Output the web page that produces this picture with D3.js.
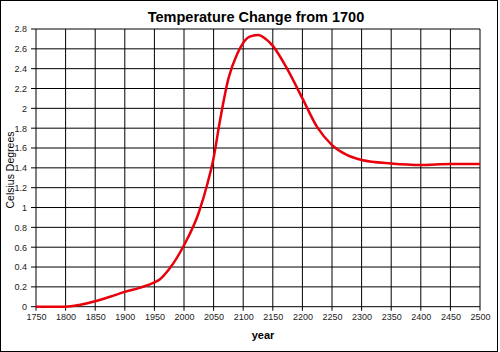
<!DOCTYPE html>
<html><head><meta charset="utf-8">
<script src="https://cdn.jsdelivr.net/npm/d3@7"></script>
<style>body{margin:0;background:#fff}svg{display:block;font-family:"Liberation Sans",Arial,sans-serif}</style>
</head><body><svg id="c" width="500" height="352"></svg>
<script>
const years = [1750,1775,1800,1825,1850,1875,1900,1925,1950,1960,1975,2000,2025,2040,2050,2060,2075,2090,2100,2110,2125,2140,2150,2175,2200,2225,2250,2275,2300,2350,2400,2450,2500];
const temps = [0,0,0,0.02,0.055,0.1,0.15,0.19,0.245,0.28,0.38,0.62,0.95,1.25,1.5,1.85,2.3,2.55,2.66,2.72,2.74,2.69,2.63,2.39,2.1,1.81,1.63,1.53,1.48,1.445,1.43,1.44,1.44];
const xTicks = d3.range(1750, 2501, 50);
const yTicks = d3.range(0, 2.81, 0.2).map(v => +v.toFixed(1));
const title = "Temperature Change from 1700";
const xLabel = "year";
const yLabel = "Celsius Degrees";

const svg = d3.select("#c");
const L = 36, R = 480, T = 29, B = 306.7;
const x = d3.scaleLinear().domain([1750, 2500]).range([L, R]);
const y = d3.scaleLinear().domain([0, 2.8]).range([B, T]);

svg.append("rect").attr("x",0.5).attr("y",0.5).attr("width",497).attr("height",351)
  .attr("fill","#fff").attr("stroke","#000");

// grid
svg.append("g").selectAll("line").data(yTicks).join("line")
  .attr("x1", L-5).attr("x2", R).attr("y1", d=>y(d)).attr("y2", d=>y(d))
  .attr("stroke","#000").attr("stroke-width",1);
svg.append("g").selectAll("line").data(xTicks).join("line")
  .attr("x1", d=>x(d)).attr("x2", d=>x(d)).attr("y1", T).attr("y2", B+4)
  .attr("stroke","#000").attr("stroke-width",1);

// axes labels
const yAxis = d3.axisLeft(y).tickValues(yTicks).tickSize(0).tickPadding(9)
  .tickFormat(d => d===0 ? "0" : d3.format("")(d));
svg.append("g").attr("transform",`translate(${L},0)`).call(yAxis)
  .call(g=>g.select(".domain").remove())
  .selectAll("text").attr("font-size","9px").attr("fill","#222").attr("font-family","Liberation Sans, Arial, sans-serif");
const xAxis = d3.axisBottom(x).tickValues(xTicks).tickSize(0).tickPadding(7).tickFormat(d3.format("d"));
svg.append("g").attr("transform",`translate(0,${B})`).call(xAxis)
  .call(g=>g.select(".domain").remove())
  .selectAll("text").attr("font-size","9px").attr("fill","#222").attr("font-family","Liberation Sans, Arial, sans-serif");

// line
const data = years.map((yr,i)=>[yr, temps[i]]);
svg.append("path").datum(data)
  .attr("fill","none").attr("stroke","#e8000b").attr("stroke-width",2.5)
  .attr("stroke-linejoin","round")
  .attr("d", d3.line().x(d=>x(d[0])).y(d=>y(d[1])).curve(d3.curveMonotoneX));

// titles
svg.append("text").attr("x",256).attr("y",22).attr("text-anchor","middle")
  .attr("font-size","14.5px").attr("font-weight","bold").text(title);
svg.append("text").attr("x",263).attr("y",339).attr("text-anchor","middle")
  .attr("font-size","11px").attr("font-weight","bold").text(xLabel);
svg.append("text").attr("transform","translate(14,170) rotate(-90)").attr("text-anchor","middle")
  .attr("font-size","10.5px").text(yLabel);
</script></body></html>
